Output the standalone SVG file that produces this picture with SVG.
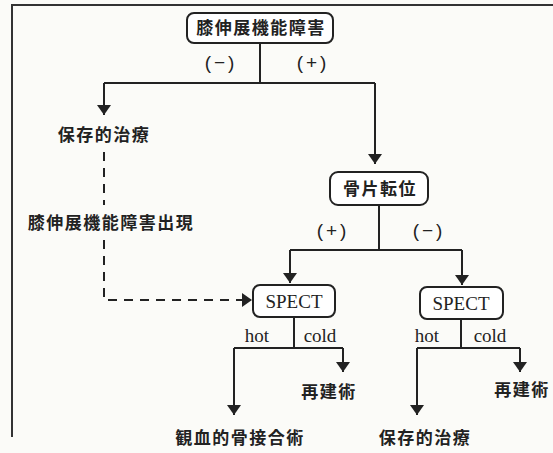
<svg xmlns="http://www.w3.org/2000/svg" width="553" height="453" viewBox="0 0 553 453">
<style>
.bg{fill:#fbfbf8}
.frame{stroke:#333;stroke-width:2;fill:none}
.box{fill:#fff;stroke:#222;stroke-width:2}
.ln{stroke:#222;stroke-width:2;fill:none}
.dash{stroke:#222;stroke-width:2;fill:none;stroke-dasharray:9,7}
.jp{font-family:"Noto Sans CJK JP","Noto Sans",sans-serif;font-weight:bold;font-size:17px;letter-spacing:1.5px;fill:#222}
.sg{font-family:"Liberation Sans","DejaVu Sans",sans-serif;font-size:19px;letter-spacing:3px;fill:#222}
.sf{font-family:"Liberation Serif","DejaVu Serif",serif;font-size:19px;fill:#222}
</style>
<defs>
<marker id="ah" viewBox="0 0 10 14" refX="10" refY="7" markerWidth="10" markerHeight="14" markerUnits="userSpaceOnUse" orient="auto">
<path d="M0,0 L10,7 L0,14 Z" fill="#222"/>
</marker>
</defs>
<rect class="bg" x="0" y="0" width="553" height="453"/>
<path class="frame" d="M12,437 V5 H553"/>
<g id="connectors">
<path class="ln" d="M260,43 V83"/>
<path class="ln" d="M104,83 H375"/>
<path class="ln" d="M104,83 V115" marker-end="url(#ah)"/>
<path class="ln" d="M375,83 V164" marker-end="url(#ah)"/>
<path class="dash" d="M104,152 V205"/>
<path class="dash" d="M104,240 V300 H252" marker-end="url(#ah)"/>
<path class="ln" d="M379,205 V250"/>
<path class="ln" d="M290,250 H462"/>
<path class="ln" d="M290,250 V283" marker-end="url(#ah)"/>
<path class="ln" d="M462,250 V285" marker-end="url(#ah)"/>
<path class="ln" d="M294,317 V348"/>
<path class="ln" d="M234,348 H343"/>
<path class="ln" d="M234,348 V415" marker-end="url(#ah)"/>
<path class="ln" d="M343,348 V372" marker-end="url(#ah)"/>
<path class="ln" d="M461,319 V348"/>
<path class="ln" d="M417,348 H520"/>
<path class="ln" d="M417,348 V415" marker-end="url(#ah)"/>
<path class="ln" d="M520,348 V372" marker-end="url(#ah)"/>
<text class="sg" x="221" y="69" text-anchor="middle">(−)</text>
<text class="sg" x="313" y="69" text-anchor="middle">(+)</text>
<text class="sg" x="333" y="237" text-anchor="middle">(+)</text>
<text class="sg" x="429" y="237" text-anchor="middle">(−)</text>
<text class="sf" x="257" y="342" text-anchor="middle">hot</text>
<text class="sf" x="320" y="342" text-anchor="middle">cold</text>
<text class="sf" x="427" y="342" text-anchor="middle">hot</text>
<text class="sf" x="490" y="342" text-anchor="middle">cold</text>
</g>
<g id="n-top">
<rect class="box" x="187" y="13" width="146" height="30" rx="7"/>
<text class="jp" x="261" y="34" text-anchor="middle">膝伸展機能障害</text>
</g>
<g id="n-hozon1">
<text class="jp" x="104" y="141" text-anchor="middle">保存的治療</text>
</g>
<g id="n-shutsugen">
<text class="jp" x="111" y="229" text-anchor="middle">膝伸展機能障害出現</text>
</g>
<g id="n-kossen">
<rect class="box" x="330" y="172" width="98" height="33" rx="8"/>
<text class="jp" x="380" y="195" text-anchor="middle">骨片転位</text>
</g>
<g id="n-spect1">
<rect class="box" x="253" y="285" width="82" height="32" rx="7"/>
<text class="sf" x="294" y="308" text-anchor="middle">SPECT</text>
</g>
<g id="n-spect2">
<rect class="box" x="420" y="287" width="83" height="32" rx="7"/>
<text class="sf" x="461" y="310" text-anchor="middle">SPECT</text>
</g>
<g id="n-saiken1">
<text class="jp" x="329" y="398" text-anchor="middle">再建術</text>
</g>
<g id="n-kanketsu">
<text class="jp" x="240" y="444" text-anchor="middle">観血的骨接合術</text>
</g>
<g id="n-saiken2">
<text class="jp" x="522" y="396" text-anchor="middle">再建術</text>
</g>
<g id="n-hozon2">
<text class="jp" x="425" y="444" text-anchor="middle">保存的治療</text>
</g>
</svg>
